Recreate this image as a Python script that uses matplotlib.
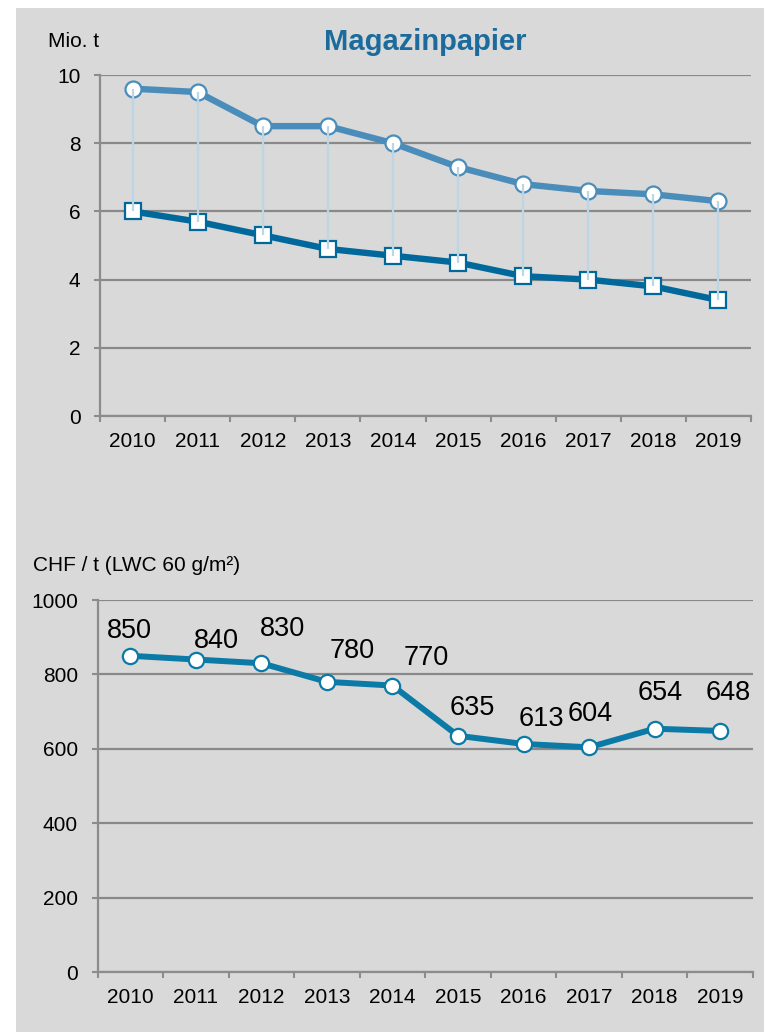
import matplotlib
matplotlib.use("Agg")
import matplotlib.pyplot as plt
from matplotlib.patches import Rectangle
import numpy as np

plt.rcParams['font.family'] = ['Liberation Sans', 'DejaVu Sans']

# ---------------- data ----------------
years = ['2010', '2011', '2012', '2013', '2014', '2015', '2016', '2017', '2018', '2019']
upper_series = [9.6, 9.5, 8.5, 8.5, 8.0, 7.3, 6.8, 6.6, 6.5, 6.3]     # circles, Mio. t
lower_series = [6.0, 5.7, 5.3, 4.9, 4.7, 4.5, 4.1, 4.0, 3.8, 3.4]     # squares, Mio. t
price = [850, 840, 830, 780, 770, 635, 613, 604, 654, 648]            # CHF / t
top_yticks = [0, 2, 4, 6, 8, 10]
bottom_yticks = [0, 200, 400, 600, 800, 1000]

# label offsets (points) for the price labels
label_offsets = [(-0.7, 18), (15, 13), (15, 25), (18, 22), (24, 20),
                 (10, 20), (13, 18), (0.7, 24), (4.3, 26), (5.8, 27)]

# ---------------- style ----------------
W, H = 764, 1032
BG = '#d9d9d9'
GRID = '#898989'
AXIS = '#8c8c8c'
LIGHT = '#4a8dba'
DARK = '#00689b'
PRICE = '#0b7aa6'
DROP = '#bcd6e6'
TITLE = '#1b6c9d'

fig = plt.figure(figsize=(W / 100, H / 100), dpi=100)
fig.patch.set_facecolor('white')
fig.patches.append(Rectangle((16 / W, 0), (W - 16) / W, (H - 8) / H,
                             transform=fig.transFigure, facecolor=BG,
                             edgecolor='none', zorder=-10))


def style_axes(ax, yticks):
    ax.set_facecolor('none')
    n = len(years)
    x = np.arange(n)
    ax.set_xlim(-0.5, n - 0.5)
    ax.set_ylim(yticks[0], yticks[-1])
    ax.set_xticks(x)
    ax.set_xticklabels(years, fontsize=15)
    ax.set_xticks(np.arange(-0.5, n, 1.0), minor=True)
    ax.tick_params(axis='x', which='major', length=0, pad=11.5)
    ax.tick_params(axis='x', which='minor', length=4, width=1.5, color=AXIS)
    ax.set_yticks(yticks)
    ax.set_yticklabels([str(t) for t in yticks], fontsize=15)
    ax.tick_params(axis='y', which='major', length=4, width=1.5, color=AXIS, pad=10)
    for s in ['top', 'right']:
        ax.spines[s].set_visible(False)
    for s in ['left', 'bottom']:
        ax.spines[s].set_color(AXIS)
        ax.spines[s].set_linewidth(1.6)
    ax.grid(axis='y', color=GRID, linewidth=1.6, zorder=0)
    ax.set_axisbelow(True)
    return x


# ---------------- top chart ----------------
ax1 = fig.add_axes([100 / W, 1 - 416 / H, 651 / W, 341 / H])
x = style_axes(ax1, top_yticks)
ax1.plot(x, upper_series, color=LIGHT, linewidth=4.6, marker='o', markersize=11.5,
         markerfacecolor='white', markeredgecolor=LIGHT, markeredgewidth=1.6,
         zorder=3, clip_on=False)
ax1.plot(x, lower_series, color=DARK, linewidth=4.6, marker='s', markersize=11.5,
         markerfacecolor='white', markeredgecolor=DARK, markeredgewidth=1.6,
         zorder=3, clip_on=False)
ax1.vlines(x, lower_series, upper_series, color=DROP, linewidth=1.6, zorder=5)

fig.text(425 / W, 1 - 50 / H, 'Magazinpapier', ha='center', va='baseline',
         fontsize=21, fontweight='bold', color=TITLE)
fig.text(48 / W, 1 - 47 / H, 'Mio. t', ha='left', va='baseline', fontsize=15)

# ---------------- bottom chart ----------------
ax2 = fig.add_axes([97.5 / W, 1 - 972 / H, 655.5 / W, 372 / H])
x = style_axes(ax2, bottom_yticks)
ax2.plot(x, price, color=PRICE, linewidth=4.3, marker='o', markersize=11,
         markerfacecolor='white', markeredgecolor=PRICE, markeredgewidth=1.6,
         zorder=3, clip_on=False)
for xi, v, (dx, dy) in zip(x, price, label_offsets):
    ax2.annotate(str(v), (xi, v), xytext=(dx, dy), textcoords='offset points',
                 ha='center', va='center', fontsize=19.5, color='black', zorder=6)

fig.text(33 / W, 1 - 571 / H, 'CHF / t (LWC 60 g/m²)', ha='left', va='baseline',
         fontsize=15)

fig.savefig('out.png', dpi=100, facecolor='white')
